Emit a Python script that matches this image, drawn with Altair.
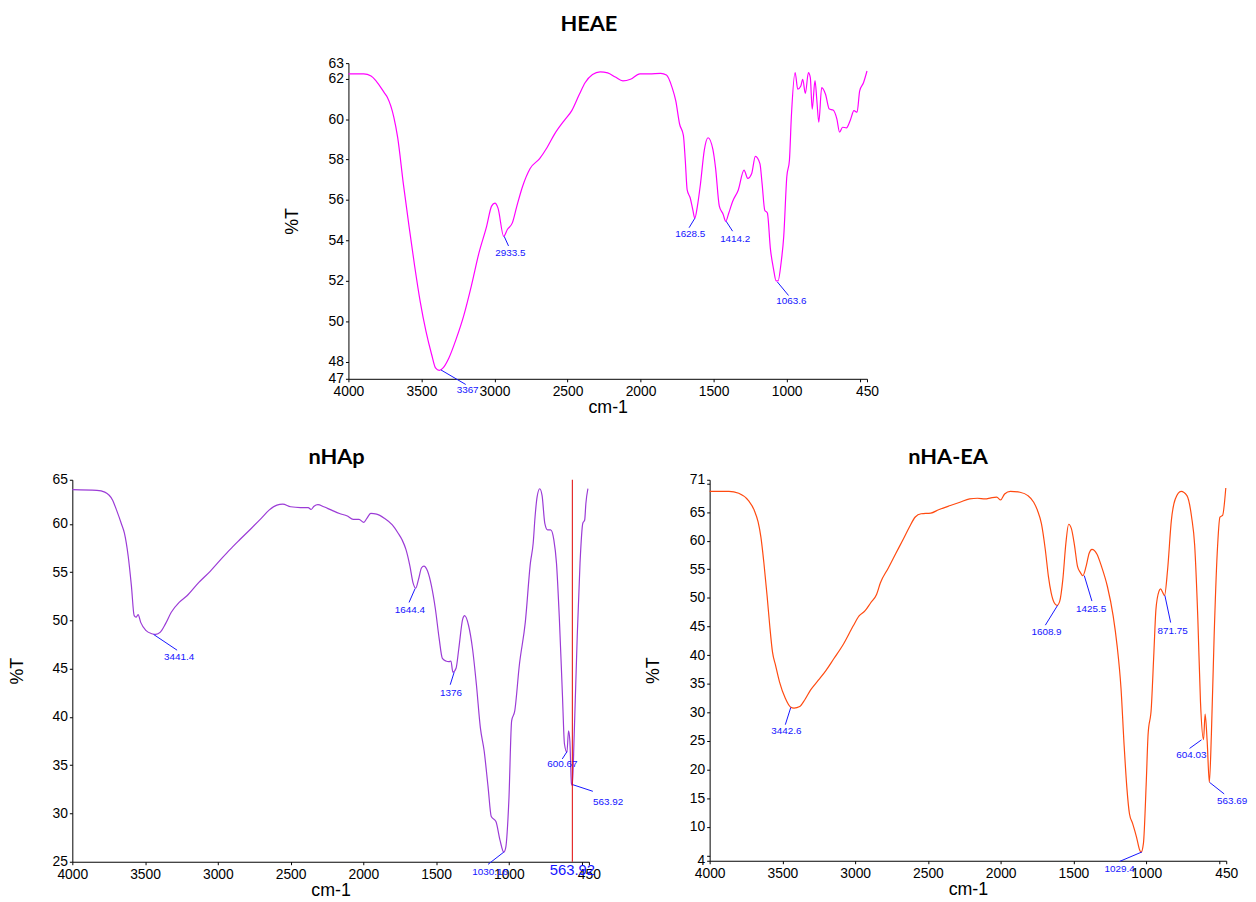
import altair as alt
import pandas as pd

# ---------------- HEAE ----------------
heae_wn = [4000,3896,3845,3754,3733,3689,3663,3624,3585,3547,3508,3469,3430,3404,3378,3352,3313,3261,3210,3158,
           3106,3054,3020,2997,2976,2937,2912,2878,2847,2808,2756,2691,2640,2588,2523,2471,2419,2380,2329,2277,
           2225,2173,2121,2069,2005,1940,1862,1823,1784,1759,1733,1707,1694,1681,1660,1642,1629,1611,1590,1564,
           1538,1505,1487,1461,1435,1417,1396,1370,1331,1292,1266,1240,1214,1183,1168,1150,1132,1111,1090,1072,
           1059,1038,1020,999,981,968,942,924,903,890,872,851,838,825,806,793,780,760,734,708,
           682,656,638,617,591,565,539,518,500,474,450]
heae_t = [62.24,62.24,62.13,61.3,61.07,60.09,59.1,56.8,54.7,52.75,50.95,49.5,48.35,47.7,47.58,47.7,48.18,49.16,50.3,51.77,
          53.4,54.7,55.7,55.85,55.6,54.2,54.54,54.87,55.7,56.67,57.56,58.05,58.6,59.27,59.93,60.42,61.23,61.8,62.21,62.34,
          62.29,62.08,61.89,61.97,62.24,62.24,62.26,62.18,61.56,60.9,59.76,59.2,57.97,56.5,56.1,55.5,55.1,55.7,56.8,58.46,
          59.08,58.5,57.6,55.7,55.3,54.95,55.36,55.93,56.5,57.48,57.07,57.3,58.16,57.8,56.8,55.5,55.36,53.57,52.6,52.0,
          52.0,52.9,54.2,57.15,57.97,60.09,62.3,61.48,61.64,61.97,61.27,62.3,62.05,60.5,61.9,60.9,59.85,61.56,61.23,60.5,
          60.45,60.0,59.36,59.6,59.57,59.93,60.42,60.34,61.4,61.8,62.38]
heae_peak_label = ["3367", "2933.5", "1628.5", "1414.2", "1063.6"]
heae_peak_wn = [3367, 2933.5, 1628.5, 1414.2, 1063.6]
heae_peak_t = [47.6, 54.2, 55.1, 54.95, 51.95]
heae_lead_wn = [3197, 2904, 1668, 1370, 987]
heae_lead_t = [46.88, 53.73, 54.63, 54.46, 51.28]
heae_text_wn = [3184, 2891, 1660, 1352, 968]
heae_text_t = [46.6, 53.4, 54.33, 54.09, 51.0]
heae_ydomain = [47.16, 62.77]
heae_yticks = [47.16, 48, 50, 52, 54, 56, 58, 60, 62, 62.77]
heae_ylabels = ["47", "48", "50", "52", "54", "56", "58", "60", "62", "63"]

# ---------------- nHAp ----------------
nhap_wn = [4000,3831,3777,3723,3696,3664,3642,3616,3594,3575,
           3562,3548,3530,3495,3454,3427,3395,3360,3320,3266,
           3212,3132,3051,2970,2917,2850,2769,2702,2648,2594,
           2554,2500,2433,2379,2360,2339,2312,2272,2218,2164,
           2110,2070,2030,1997,1976,1949,1909,1855,1801,1761,
           1734,1707,1680,1659,1640,1621,1600,1584,1559,1532,
           1505,1479,1457,1433,1412,1398,1385,1363,1344,1317,
           1304,1277,1250,1223,1196,1170,1143,1121,1089,1062,
           1035,1022,1000,981,960,928,887,852,833,820,
           806,788,772,753,734,713,691,673,653,632,
           618,601,590,581,570,564,551,530,511,492,
           479,471,457]
nhap_t = [63.55,63.48,63.3,62.46,61.43,60.07,59.04,56.65,53.58,50.5,
          50.34,50.6,49.8,48.97,48.63,48.56,48.8,49.65,50.85,51.87,
          52.56,53.92,55.12,56.48,57.34,58.36,59.56,60.58,61.43,61.95,
          62.05,61.78,61.7,61.7,61.5,61.84,62.0,61.78,61.43,61.09,
          60.82,60.48,60.48,60.17,60.58,61.09,61.02,60.58,59.9,59.04,
          58.36,57.34,55.63,53.92,53.34,54.26,55.46,55.63,55.12,53.58,
          51.19,48.12,46.07,45.8,45.73,45.8,44.64,45.05,47.1,50.17,
          50.5,49.48,47.1,43.34,38.9,36.5,32.76,29.68,29.17,27.3,
          26.0,26.44,31.4,39.6,40.6,45.39,49.83,55.97,58.0,60.75,
          62.8,63.65,62.97,60.07,59.39,59.39,58.36,55.97,50.17,42.31,
          37.2,36.34,38.56,37.54,33.1,32.9,38.2,48.46,55.97,60.07,
          60.41,62.1,63.65]
nhap_peak_label = ["3441.4", "1644.4", "1376", "1030.16", "600.67", "563.92"]
nhap_peak_wn = [3441.4, 1644.4, 1376, 1035, 601, 564]
nhap_peak_t = [48.55, 53.3, 44.64, 26.0, 36.4, 33.0]
nhap_lead_wn = [3280, 1686, 1403, 1143, 633, 423]
nhap_lead_t = [46.92, 51.87, 43.34, 24.73, 35.65, 32.3]
nhap_text_wn = [3266, 1680, 1398, 1129, 633, 318]
nhap_text_t = [46.17, 51.12, 42.49, 23.95, 35.1, 31.2]
nhap_cursor_wn = [563.92]
nhap_cursor_label = ["563.92"]
nhap_cursor_label_t = [24.14]
nhap_ydomain = [25, 64.58]
nhap_yticks = [25, 30, 35, 40, 45, 50, 55, 60, 64.58]
nhap_ylabels = ["25", "30", "35", "40", "45", "50", "55", "60", "65"]

# ---------------- nHA-EA ----------------
nhaea_wn = [4000,3867,3800,3733,3693,3667,3648,3627,3605,3587,
            3568,3547,3520,3480,3445,3420,3381,3347,3307,3253,
            3200,3147,3080,3013,2973,2933,2893,2853,2827,2773,
            2720,2667,2627,2587,2547,2480,2427,2346,2280,2213,
            2160,2107,2067,2027,2000,1973,1933,1867,1813,1773,
            1747,1720,1693,1672,1653,1632,1613,1594,1573,1552,
            1533,1514,1493,1472,1453,1435,1413,1392,1373,1339,
            1307,1267,1227,1200,1173,1152,1133,1115,1093,1067,
            1045,1035,1019,1000,987,965,947,933,912,901,
            885,874,853,827,800,760,720,688,667,645,
            627,606,595,581,566,552,533,512,493,475,
            453]
nhaea_t = [68.63,68.63,68.28,67.0,65.29,63.27,60.68,56.07,50.31,45.13,
           40.52,38.21,35.33,32.45,30.95,30.75,31.01,32.17,33.89,35.62,
           37.35,39.37,41.96,45.13,46.85,47.72,49.16,50.6,52.61,55.2,
           57.8,60.39,62.41,64.14,64.71,64.83,65.4,66.15,66.73,67.3,
           67.42,67.3,67.48,67.6,67.13,68.17,68.63,68.46,67.88,66.73,
           65.29,62.98,58.38,53.77,50.89,49.16,48.7,49.45,53.19,59.53,
           62.87,62.12,59.24,55.5,54.46,53.88,55.5,57.8,58.49,57.68,
           55.5,52.04,46.85,41.67,34.18,24.39,16.9,12.29,10.56,8.26,
           5.96,5.55,7.1,17.48,26.12,30.73,40.52,48.0,51.18,51.58,
           50.89,50.43,54.92,63.56,67.3,68.63,67.88,64.14,59.24,46.28,
           31.88,25.25,29.69,24.97,17.77,26.12,43.4,57.8,64.14,64.42,
           69.2]
nhaea_peak_label = ["3442.6", "1608.9", "1425.5", "871.75", "604.03", "563.69", "1029.4"]
nhaea_peak_wn = [3442.6, 1608.9, 1425.5, 871.75, 620, 563.7, 1030]
nhaea_peak_t = [30.85, 48.7, 53.9, 50.45, 25.2, 17.75, 5.6]
nhaea_lead_wn = [3480, 1693, 1373, 832, 702, 464, 1183]
nhaea_lead_t = [27.85, 45.24, 49.45, 45.7, 23.7, 15.75, 3.95]
nhaea_text_wn = [3472, 1685, 1378, 818, 690, 410, 1182]
nhaea_text_t = [26.7, 44.09, 48.1, 44.3, 22.56, 14.5, 2.62]
nhaea_ydomain = [4.07, 70.65]
nhaea_yticks = [4.07, 5, 10, 15, 20, 25, 30, 35, 40, 45, 50, 55, 60, 65, 70, 70.65]
nhaea_ylabels = ["4", "", "10", "15", "20", "25", "30", "35", "40", "45", "50", "55", "60", "65", "", "71"]

x_ticks = [4000, 3500, 3000, 2500, 2000, 1500, 1000, 500, 450]
x_labels = ["4000", "3500", "3000", "2500", "2000", "1500", "1000", "", "450"]

LABEL_FONT = "Liberation Sans"
ANN_BLUE = "#1414ff"


def label_expr(values, labels):
    expr = "''"
    for v, l in zip(values, labels):
        expr = f"datum.value == {v} ? '{l}' : ({expr})"
    return expr


def panel(wn, t, color, ydomain, yticks, ylabels, plab, pwn, pt, lwn, lt, twn, tt, ytitle_x):
    xscale = alt.Scale(domain=[450, 4000], reverse=True, nice=False, zero=False)
    yscale = alt.Scale(domain=ydomain, nice=False, zero=False)
    xaxis = alt.Axis(values=x_ticks, labelExpr=label_expr(x_ticks, x_labels), title="cm-1",
                     tickSize=3, labelFontSize=14, labelFont=LABEL_FONT, labelColor="black",
                     labelPadding=3, labelOverlap=False, labelFlush=False,
                     domainColor="black", tickColor="black", grid=False,
                     titleFont=LABEL_FONT, titleFontSize=18, titleFontWeight="normal",
                     titleColor="black", titlePadding=0)
    yaxis = alt.Axis(values=yticks, labelExpr=label_expr(yticks, ylabels), title="%T",
                     tickSize=3, labelFontSize=14, labelFont=LABEL_FONT, labelColor="black",
                     labelPadding=2, labelOverlap=False, labelFlush=False,
                     domainColor="black", tickColor="black", grid=False,
                     titleFont=LABEL_FONT, titleFontSize=18, titleFontWeight="normal",
                     titleColor="black", titleX=ytitle_x)
    df = pd.DataFrame({"wn": wn, "t": t})
    line = alt.Chart(df).mark_line(color=color, strokeWidth=1.2, interpolate="monotone").encode(
        x=alt.X("wn:Q", scale=xscale, axis=xaxis),
        y=alt.Y("t:Q", scale=yscale, axis=yaxis),
        order=alt.Order("wn:Q", sort="descending"),
    )
    ann = pd.DataFrame({"label": plab, "pwn": pwn, "pt": pt, "lwn": lwn, "lt": lt,
                        "twn": twn, "tt": tt})
    leads = alt.Chart(ann).mark_rule(color=ANN_BLUE, strokeWidth=1).encode(
        x=alt.X("pwn:Q", scale=xscale, axis=xaxis), y=alt.Y("pt:Q", scale=yscale, axis=yaxis),
        x2="lwn:Q", y2="lt:Q")
    texts = alt.Chart(ann).mark_text(color=ANN_BLUE, fontSize=10, font=LABEL_FONT,
                                     align="center", baseline="middle").encode(
        x=alt.X("twn:Q", scale=xscale, axis=xaxis), y=alt.Y("tt:Q", scale=yscale, axis=yaxis),
        text="label:N")
    return [line, leads, texts], xscale, yscale, xaxis, yaxis


def title(text, dx, offset):
    return alt.TitleParams(text=text, font="Lato", fontSize=22, fontWeight="bold",
                           color="black", anchor="middle", dx=dx, offset=offset)


heae_layers, _, _, _, _ = panel(heae_wn, heae_t, "#ff00ff", heae_ydomain, heae_yticks, heae_ylabels,
                                heae_peak_label, heae_peak_wn, heae_peak_t, heae_lead_wn, heae_lead_t,
                                heae_text_wn, heae_text_t, -47)
heae = alt.layer(*heae_layers).properties(width=524, height=319, title=title("HEAE", -19, 20))

nhap_layers, nx, ny, nxa, nya = panel(nhap_wn, nhap_t, "#9b3bd6", nhap_ydomain, nhap_yticks, nhap_ylabels,
                                      nhap_peak_label, nhap_peak_wn, nhap_peak_t, nhap_lead_wn, nhap_lead_t,
                                      nhap_text_wn, nhap_text_t, -46)
cur = pd.DataFrame({"wn": nhap_cursor_wn, "label": nhap_cursor_label,
                    "lt": nhap_cursor_label_t})
cursor = alt.Chart(cur).mark_rule(color="#e00000", strokeWidth=1).encode(
    x=alt.X("wn:Q", scale=nx, axis=nxa))
cursor_text = alt.Chart(cur).mark_text(color=ANN_BLUE, fontSize=15, font=LABEL_FONT,
                                       align="center", baseline="middle").encode(
    x=alt.X("wn:Q", scale=nx, axis=nxa), y=alt.Y("lt:Q", scale=ny, axis=nya), text="label:N")
nhap = alt.layer(*nhap_layers, cursor, cursor_text).properties(
    width=522, height=386, title=title("nHAp", 6, 4))

nhaea_layers, _, _, _, _ = panel(nhaea_wn, nhaea_t, "#ff4a10", nhaea_ydomain, nhaea_yticks, nhaea_ylabels,
                                 nhaea_peak_label, nhaea_peak_wn, nhaea_peak_t, nhaea_lead_wn, nhaea_lead_t,
                                 nhaea_text_wn, nhaea_text_t, -48)
nhaea = alt.layer(*nhaea_layers).properties(width=522, height=385, title=title("nHA-EA", -20, 4))

spacer = alt.Chart(pd.DataFrame({"v": [0]})).mark_point(opacity=0, size=1).encode(
    x=alt.X("v:Q", axis=None, scale=alt.Scale(domain=[0, 1])),
    y=alt.Y("v:Q", axis=None, scale=alt.Scale(domain=[0, 1]))).properties(width=212, height=1)

top = alt.hconcat(spacer, heae, spacing=0)
bottom = alt.hconcat(nhap, nhaea, spacing=19)
chart = alt.vconcat(top, bottom, spacing=28).properties(padding=0).configure_view(
    stroke="transparent").configure_concat(spacing=0)

chart.save("out.html", embed_options={"renderer": "svg", "actions": False})
